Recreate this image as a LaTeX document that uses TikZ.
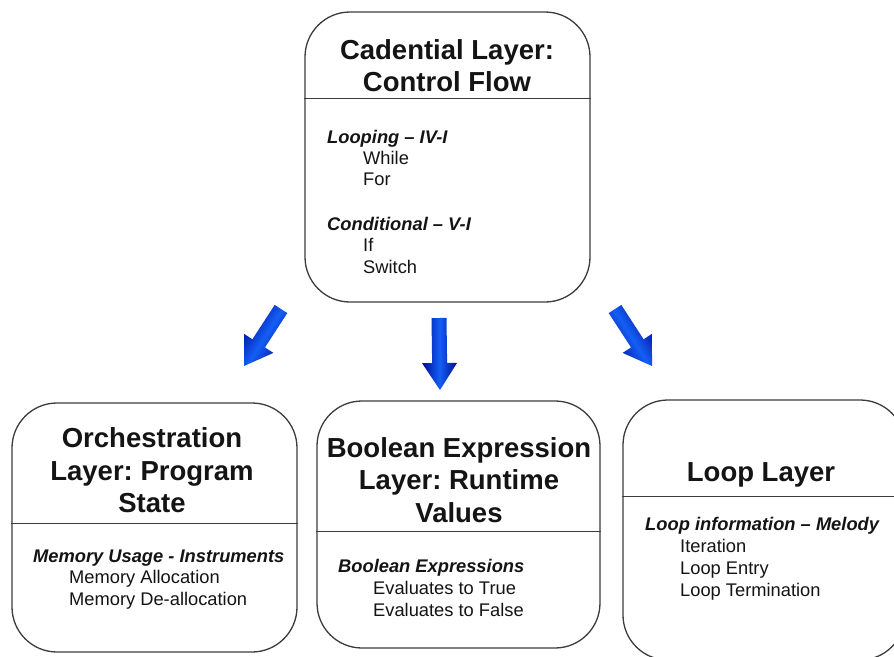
\documentclass[tikz,border=0pt]{standalone}
\usepackage{fontspec}
\setmainfont{Liberation Sans}
\usetikzlibrary{calc}
\frenchspacing
\definecolor{boxline}{RGB}{60,60,60}
\definecolor{txt}{RGB}{20,20,20}
\definecolor{arrowdark}{RGB}{0,10,150}
\definecolor{arrowlight}{RGB}{20,95,245}
\tikzset{
 layerbox/.style={draw=boxline, line width=1.3pt, rounded corners=45pt, rectangle, inner sep=0pt, fill=white},
 divider/.style={draw=boxline, line width=1pt},
 ttl/.style={font=\fontsize{27.5}{30}\selectfont\bfseries\frenchspacing, text=txt, anchor=base, inner sep=0pt},
 bodyhead/.style={font=\fontsize{18.3}{22}\selectfont\bfseries\itshape\frenchspacing, text=txt, anchor=base west, inner sep=0pt},
 bodyitem/.style={font=\fontsize{18.3}{22}\selectfont\frenchspacing, text=txt, anchor=base west, inner sep=0pt},
 arrowshade/.style={left color=arrowdark, right color=arrowdark, middle color=arrowlight},
}
\newcommand\blockarrow[3]{%
 \coordinate (#1h) at ($(#2)!27pt!(#1)$);
 \shade[arrowshade, shading angle=#3]
 ($(#1)!7.5pt!90:(#2)$) -- ($(#1h)!7.5pt!90:(#2)$) -- ($(#1h)!17.5pt!90:(#2)$) -- (#2)
 -- ($(#1h)!17.5pt!-90:(#2)$) -- ($(#1h)!7.5pt!-90:(#2)$) -- ($(#1)!7.5pt!-90:(#2)$) -- cycle;
}
\begin{document}
\begin{tikzpicture}[x=1pt,y=-1pt]
\useasboundingbox (0,0) rectangle (894,656);
\clip (0,0) rectangle (894,656);
\fill[white] (0,0) rectangle (894,656);

% boxes
\node[layerbox, minimum width=285pt, minimum height=290pt] (cad) at (447.5,157) {};
\node[layerbox, minimum width=285pt, minimum height=249pt] (orch) at (154.5,527.5) {};
\node[layerbox, minimum width=283pt, minimum height=247pt] (bool) at (458.5,524.5) {};
\node[layerbox, minimum width=282pt, minimum height=260pt] (loop) at (764,530) {};

% dividers
\draw[divider] (cad.west |- 0,98) -- (cad.east |- 0,98);
\draw[divider] (orch.west |- 0,523) -- (orch.east |- 0,523);
\draw[divider] (bool.west |- 0,531) -- (bool.east |- 0,531);
\draw[divider] (loop.west |- 0,496) -- (loop.east |- 0,496);

% top box
\node[ttl] (cadt1) at (447,59) {Cadential Layer:};
\node[ttl] (cadt2) at (447,91) {Control Flow};
\node[bodyhead] (cad1) at (327,143) {Looping – IV-I};
\node[bodyitem] (cad2) at (363,164) {While};
\node[bodyitem] (cad3) at (363,185) {For};
\node[bodyhead] (cad4) at (327,230) {Conditional – V-I};
\node[bodyitem] (cad5) at (363,251) {If};
\node[bodyitem] (cad6) at (363,273) {Switch};

% left box
\node[ttl] (orcht1) at (152,447) {Orchestration};
\node[ttl] (orcht2) at (152,480) {Layer: Program};
\node[ttl] (orcht3) at (152,512) {State};
\node[bodyhead] (orch1) at (33,562) {Memory Usage - Instruments};
\node[bodyitem] (orch2) at (69,583) {Memory Allocation};
\node[bodyitem] (orch3) at (69,605) {Memory De-allocation};

% middle box
\node[ttl] (boolt1) at (459,457) {Boolean Expression};
\node[ttl] (boolt2) at (459,489) {Layer: Runtime};
\node[ttl] (boolt3) at (459,522) {Values};
\node[bodyhead] (bool1) at (338,572) {Boolean Expressions};
\node[bodyitem] (bool2) at (373,594) {Evaluates to True};
\node[bodyitem] (bool3) at (373,616) {Evaluates to False};

% right box
\node[ttl] (loopt1) at (761,481) {Loop Layer};
\node[bodyhead] (loop1) at (645,530) {Loop information – Melody};
\node[bodyitem] (loop2) at (680,552) {Iteration};
\node[bodyitem] (loop3) at (680,574) {Loop Entry};
\node[bodyitem] (loop4) at (680,596) {Loop Termination};

% arrows
\coordinate (ta) at (281,309); \coordinate (pa) at (244,366);
\coordinate (tb) at (439,318); \coordinate (pb) at (440,390);
\coordinate (tc) at (615,309); \coordinate (pc) at (652,366);
\blockarrow{ta}{pa}{58}
\blockarrow{tb}{pb}{90}
\blockarrow{tc}{pc}{122}
\end{tikzpicture}
\end{document}
